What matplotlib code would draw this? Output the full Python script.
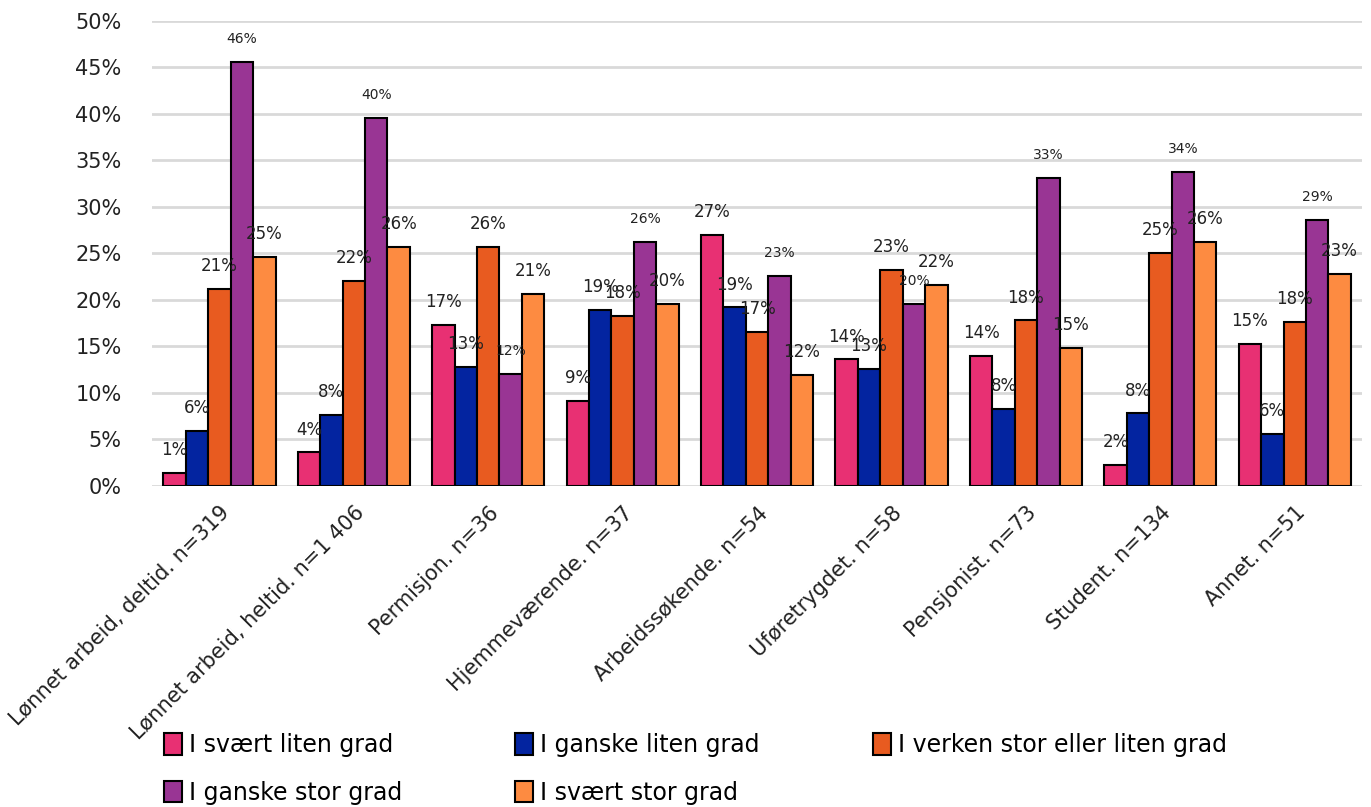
import matplotlib
matplotlib.use("Agg")
import matplotlib.pyplot as plt
import numpy as np

categories = ["Lønnet arbeid, deltid. n=319", "Lønnet arbeid, heltid. n=1 406", "Permisjon. n=36",
              "Hjemmeværende. n=37", "Arbeidssøkende. n=54", "Uføretrygdet. n=58",
              "Pensjonist. n=73", "Student. n=134", "Annet. n=51"]
series_names = ["I svært liten grad", "I ganske liten grad", "I verken stor eller liten grad",
                "I ganske stor grad", "I svært stor grad"]
svaert_liten = [1.4, 3.6, 17.3, 9.1, 27.0, 13.6, 14.0, 2.3, 15.3]
ganske_liten = [5.9, 7.6, 12.8, 18.9, 19.2, 12.6, 8.3, 7.8, 5.6]
verken = [21.2, 22.0, 25.7, 18.3, 16.6, 23.2, 17.8, 25.1, 17.6]
ganske_stor = [45.6, 39.6, 12.0, 26.2, 22.6, 19.6, 33.1, 33.8, 28.6]
svaert_stor = [24.6, 25.7, 20.6, 19.6, 11.9, 21.6, 14.8, 26.2, 22.8]
colors = ["#E83073", "#0324A0", "#E85B20", "#993594", "#FD8B41"]
yticks = [0, 5, 10, 15, 20, 25, 30, 35, 40, 45, 50]

series = [svaert_liten, ganske_liten, verken, ganske_stor, svaert_stor]

plt.rcParams['font.family'] = ['DejaVu Sans']
fig = plt.figure(figsize=(13.71, 8.07), dpi=100)
ax = fig.add_axes([0.111, 0.3978, 0.8824, 0.5762])

n = len(categories)
x = np.arange(n)
w = 0.167
handles = []
for i, (vals, c, name) in enumerate(zip(series, colors, series_names)):
    pos = x + (i - 2) * w
    bars = ax.bar(pos, vals, width=w, color=c, edgecolor="black", linewidth=1.5,
                  label=name, zorder=3)
    handles.append(bars)
    fs = 10 if i == 3 else 12
    for xp, v in zip(pos, vals):
        ax.annotate(f"{int(v + 0.5)}%", (xp, v), xytext=(0, 16.5), textcoords="offset points",
                    ha="center", va="center", fontsize=fs, color="#222222", zorder=4)

ax.set_xlim(-0.5, n - 0.5)
ax.set_ylim(0, 50)
ax.set_yticks(yticks)
ax.set_yticklabels([f"{t}%" for t in yticks], fontsize=15, color="#222222")
ax.yaxis.grid(True, color="#D9D9D9", linewidth=2, zorder=0)
ax.set_axisbelow(True)
for s in ax.spines.values():
    s.set_visible(False)
ax.tick_params(axis="both", length=0)
ax.tick_params(axis="y", pad=22)
ax.set_xticks(x)
ax.set_xticklabels(categories, rotation=45, ha="right", rotation_mode="anchor",
                   fontsize=15, color="#222222")
ax.tick_params(axis="x", pad=12)

order = [0, 3, 1, 4, 2]
leg = fig.legend([handles[k] for k in order], [series_names[k] for k in order],
                 loc="upper left", bbox_to_anchor=(0.104, 0.118), ncol=3, frameon=False,
                 fontsize=17, handlelength=0.75, handleheight=1.0, handletextpad=0.3,
                 columnspacing=4.8, labelspacing=1.0)
for h in leg.legend_handles:
    h.set_linewidth(1.5)

fig.savefig("out.png", dpi=100)
